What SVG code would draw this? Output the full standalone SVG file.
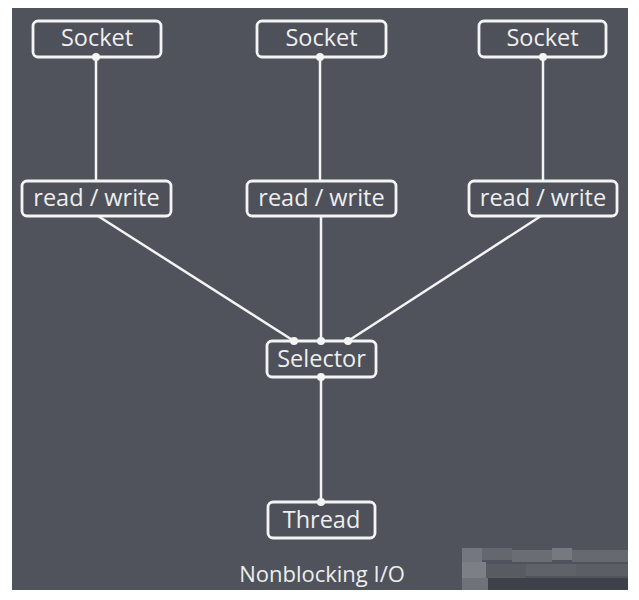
<svg xmlns="http://www.w3.org/2000/svg" width="639" height="600" viewBox="0 0 639 600">
<style>
.box{fill:#4e505a;stroke:#f4f4f4;stroke-width:2.8}
.lbl{font-family:"Open Sans","Noto Sans",sans-serif;font-size:23.5px;fill:#eeeeee;text-anchor:middle}
.ln{stroke:#f4f4f4;stroke-width:2.5;fill:none}
.dot{fill:#f4f4f4}
</style>
<rect x="0" y="0" width="639" height="600" fill="#ffffff"/>
<rect x="12" y="8" width="616" height="582" fill="#50525c"/>
<g id="watermark" opacity="0.9">
<rect x="462" y="548" width="20" height="14" fill="#7a7c84"/>
<rect x="482" y="548" width="30" height="12" fill="#686a72"/>
<rect x="512" y="550" width="40" height="12" fill="#6e7078"/>
<rect x="552" y="548" width="20" height="12" fill="#7c7e86"/>
<rect x="572" y="550" width="56" height="12" fill="#6a6c74"/>
<rect x="462" y="562" width="24" height="16" fill="#82848c"/>
<rect x="486" y="564" width="40" height="14" fill="#5a5c64"/>
<rect x="526" y="564" width="50" height="12" fill="#62646c"/>
<rect x="576" y="564" width="52" height="12" fill="#5e6068"/>
<rect x="462" y="578" width="26" height="12" fill="#74767e"/>
<rect x="488" y="578" width="140" height="12" fill="#3e4048"/>
</g>
<g id="connectors">
<line class="ln" x1="96" y1="57" x2="96" y2="181"/>
<line class="ln" x1="320" y1="57" x2="320" y2="181"/>
<line class="ln" x1="543" y1="57" x2="543" y2="181"/>
<line class="ln" x1="98" y1="216" x2="294" y2="341"/>
<line class="ln" x1="321" y1="216" x2="321" y2="341"/>
<line class="ln" x1="541" y1="216" x2="348" y2="341"/>
<line class="ln" x1="321" y1="377" x2="321" y2="502"/>
</g>
<g id="socket1"><rect class="box" x="33" y="21" width="128" height="36" rx="5"/><text class="lbl" x="97" y="46">Socket</text></g>
<g id="socket2"><rect class="box" x="257" y="21" width="129" height="36" rx="5"/><text class="lbl" x="321.5" y="46">Socket</text></g>
<g id="socket3"><rect class="box" x="479" y="21" width="127" height="36" rx="5"/><text class="lbl" x="542.5" y="46">Socket</text></g>
<g id="rw1"><rect class="box" x="22" y="181" width="149" height="35" rx="5"/><text class="lbl" x="96.5" y="206">read / write</text></g>
<g id="rw2"><rect class="box" x="247" y="181" width="149" height="35" rx="5"/><text class="lbl" x="321.5" y="206">read / write</text></g>
<g id="rw3"><rect class="box" x="469" y="181" width="148" height="35" rx="5"/><text class="lbl" x="543" y="206">read / write</text></g>
<g id="selector"><rect class="box" x="267" y="341" width="109" height="36" rx="5"/><text class="lbl" x="321.5" y="366.5">Selector</text></g>
<g id="thread"><rect class="box" x="268" y="502" width="107" height="36" rx="5"/><text class="lbl" x="321.5" y="527.5">Thread</text></g>
<g id="ports">
<circle class="dot" cx="96" cy="57" r="4"/>
<circle class="dot" cx="320" cy="57" r="4"/>
<circle class="dot" cx="543" cy="57" r="4"/>
<circle class="dot" cx="294" cy="341" r="4"/>
<circle class="dot" cx="321" cy="341" r="4"/>
<circle class="dot" cx="348" cy="341" r="4"/>
<circle class="dot" cx="321" cy="377" r="4"/>
<circle class="dot" cx="321" cy="502" r="4"/>
</g>
<text x="322" y="582" font-family="'Open Sans','Noto Sans',sans-serif" font-size="22" fill="#eeeeee" text-anchor="middle">Nonblocking I/O</text>
</svg>
